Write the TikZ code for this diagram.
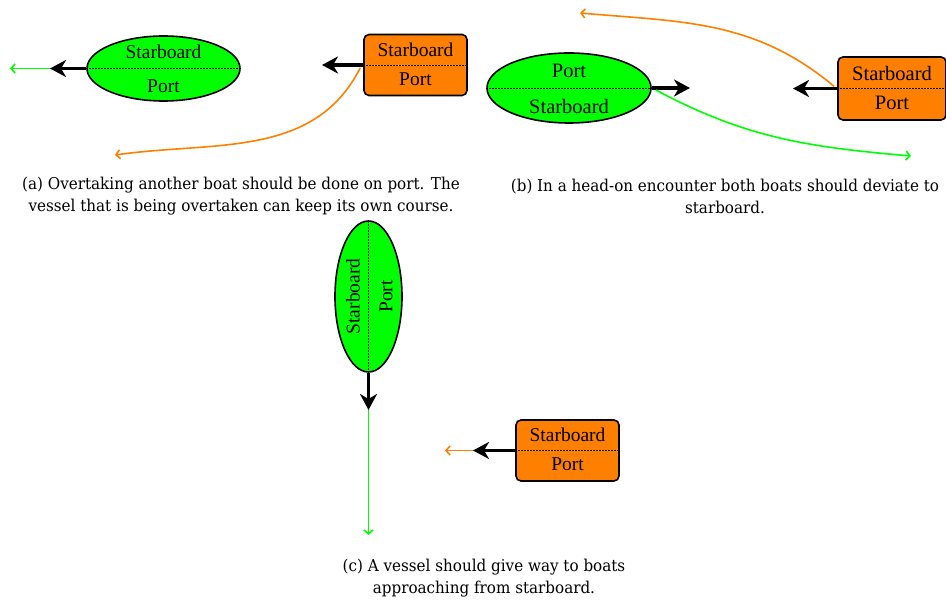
\documentclass[tikz,border=0pt]{standalone}
\usepackage{fontspec}
\setmainfont{Liberation Serif}
\newfontfamily\capfont{DejaVu Serif}
\usetikzlibrary{shapes.geometric,arrows.meta}
\definecolor{boatgreen}{RGB}{0,255,0}
\definecolor{boatorange}{RGB}{255,128,0}
\begin{document}
\begin{tikzpicture}[x=1pt,y=1pt,
  hull/.style={ellipse, draw=black, line width=1.6pt, fill=boatgreen, inner sep=0pt},
  boatbox/.style={rectangle, rounded corners=5pt, draw=black, line width=1.6pt, fill=boatorange, inner sep=0pt},
  lbl/.style={font=\fontsize{19.5}{22}\selectfont, inner sep=0pt},
  lblb/.style={font=\fontsize{20.5}{24}\selectfont, inner sep=0pt},
  midline/.style={dash pattern=on 1.5pt off 1.5pt, line width=0.5pt},
  heading/.style={line width=3.8pt, -{Stealth[length=16pt,width=17pt,inset=5pt]}},
  track/.style={line width=1.6pt, -{Straight Barb[length=4pt,width=9pt]}},
  capt/.style={font=\capfont\fontsize{16.3}{22}\selectfont, align=center, inner sep=0pt, xscale=0.93}]
\useasboundingbox (0,0) rectangle (946,-601);

% ---------- panel (a) ----------
\coordinate (tipA) at (50,-68.5);
\coordinate (endA) at (10,-68.5);
\draw[track, boatgreen] (tipA) -- (endA);
\node[hull, minimum width=153pt, minimum height=65pt] (ellA) at (163.5,-68.5) {};
\draw[midline] (ellA.west) -- (ellA.east);
\node[lbl] (ellAs) at (163.5,-52) {Starboard};
\node[lbl] (ellAp) at (163.5,-86) {Port};
\draw[heading] (ellA.west) -- (tipA);

\node[boatbox, minimum width=103pt, minimum height=61pt] (boxA) at (415.5,-65) {};
\draw[midline] (boxA.west) -- (boxA.east);
\node[lbl] (boxAs) at (415.5,-50) {Starboard};
\node[lbl] (boxAp) at (415.5,-79) {Port};
\coordinate (tipAo) at (322,-65);
\draw[heading] (boxA.west) -- (tipAo);
\coordinate (endAo) at (115,-155);
\draw[track, boatorange] ([shift={(-3pt,-3pt)}]boxA.west) to[out=243,in=8] (endAo);

\node[capt] (capA) at (241,-196) {(a) Overtaking another boat should be done on port. The\\vessel that is being overtaken can keep its own course.};

% ---------- panel (b) ----------
\node[hull, minimum width=164pt, minimum height=70pt] (ellB) at (569,-88) {};
\draw[midline] (ellB.west) -- (ellB.east);
\node[lblb] (ellBp) at (569,-71) {Port};
\node[lblb] (ellBs) at (569,-106) {Starboard};
\coordinate (tipB) at (690,-88);
\draw[heading] (ellB.east) -- (tipB);
\coordinate (endB) at (911,-156);
\draw[track, boatgreen] ([shift={(4pt,-2pt)}]ellB.east) to[out=-28,in=175] (endB);

\node[boatbox, minimum width=108pt, minimum height=63pt] (boxB) at (892,-88.5) {};
\draw[midline] (boxB.west) -- (boxB.east);
\node[lblb] (boxBs) at (892,-73) {Starboard};
\node[lblb] (boxBp) at (892,-103) {Port};
\coordinate (tipBo) at (793,-88.5);
\draw[heading] (boxB.west) -- (tipBo);
\coordinate (endBo) at (580,-13);
\draw[track, boatorange] ([shift={(-3pt,2pt)}]boxB.west) to[out=140,in=-5] (endBo);

\node[capt] (capB) at (725,-196) {(b) In a head-on encounter both boats should deviate to\\starboard.};

% ---------- panel (c) ----------
\coordinate (tipC) at (368.5,-410);
\coordinate (endC) at (368.5,-535);
\draw[track, boatgreen] (tipC) -- (endC);
\node[hull, minimum width=151pt, minimum height=67pt, rotate=90] (ellC) at (368.5,-296.5) {};
\draw[midline] (ellC.west) -- (ellC.east);
\node[lbl, rotate=90] (ellCs) at (353,-296.5) {Starboard};
\node[lbl, rotate=90] (ellCp) at (386,-296.5) {Port};
\draw[heading] (ellC.west) -- (tipC);

\coordinate (tipCo) at (473,-450.5);
\coordinate (endCo) at (445,-450.5);
\draw[track, boatorange] (tipCo) -- (endCo);
\node[boatbox, minimum width=103pt, minimum height=61pt] (boxC) at (567.5,-450.5) {};
\draw[midline] (boxC.west) -- (boxC.east);
\node[lbl] (boxCs) at (567.5,-435) {Starboard};
\node[lbl] (boxCp) at (567.5,-464) {Port};
\draw[heading] (boxC.west) -- (tipCo);

\node[capt] (capC) at (484,-578) {(c) A vessel should give way to boats\\approaching from starboard.};
\end{tikzpicture}
\end{document}
